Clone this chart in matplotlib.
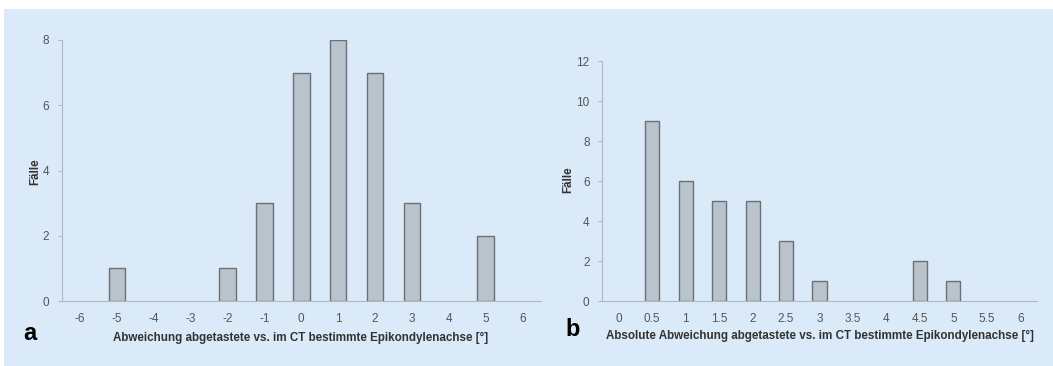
import numpy as np
import matplotlib.pyplot as plt
from matplotlib.patches import Rectangle

plt.rcParams['font.family'] = ['Liberation Sans', 'DejaVu Sans']

# Daten
abw_labels = ['-6', '-5', '-4', '-3', '-2', '-1', '0', '1', '2', '3', '4', '5', '6']
abw_counts = [0, 1, 0, 0, 1, 3, 7, 8, 7, 3, 0, 2, 0]

abs_labels = ['0', '0.5', '1', '1.5', '2', '2.5', '3', '3.5', '4', '4.5', '5', '5.5', '6']
abs_counts = [0, 9, 6, 5, 5, 3, 1, 0, 0, 2, 1, 0, 0]

W, H = 1053, 366
bg = '#dbeaf8'
bar_fc = '#b9c3cc'
bar_ec = '#6b7076'
spine_c = '#b0b8c0'
tick_c = '#555555'
label_c = '#333333'

fig = plt.figure(figsize=(W / 100, H / 100), dpi=100, facecolor='white')
fig.patches.append(Rectangle((4 / W, 0), 1 - 4 / W, 1 - 9 / H, transform=fig.transFigure,
                             facecolor=bg, edgecolor='none', zorder=-10))


def px_axes(x0, x1, y0, y1):
    # Pixelkoordinaten (von oben) -> Figurenkoordinaten
    return fig.add_axes([x0 / W, (H - y1) / H, (x1 - x0) / W, (y1 - y0) / H])


def draw(ax, labels, counts, ymax, width):
    x = np.arange(len(labels))
    lw = [1.0 if c > 0 else 0 for c in counts]  # leere Klassen ohne Rand
    ax.bar(x, counts, width=width, color=bar_fc, edgecolor=bar_ec, linewidth=lw, zorder=3)
    ax.set_facecolor('none')
    ax.set_xlim(-0.5, len(labels) - 0.5)
    ax.set_ylim(0, ymax)
    ax.set_yticks(np.arange(0, ymax + 1, 2))
    ax.set_xticks(x)
    ax.set_xticklabels(labels)
    for s in ['top', 'right']:
        ax.spines[s].set_visible(False)
    for s in ['left', 'bottom']:
        ax.spines[s].set_color(spine_c)
        ax.spines[s].set_linewidth(0.8)
    ax.tick_params(axis='y', length=3, color=spine_c, labelsize=8.5, labelcolor=tick_c, pad=6)
    ax.tick_params(axis='x', length=0, labelsize=8.5, labelcolor=tick_c, pad=9)


ax1 = px_axes(61.5, 541, 40, 301)
draw(ax1, abw_labels, abw_counts, 8, 0.45)

ax2 = px_axes(602, 1037, 61, 301)
draw(ax2, abs_labels, abs_counts, 12, 0.42)

fig.text(301 / W, 1 - 338 / H, 'Abweichung abgetastete vs. im CT bestimmte Epikondylenachse [°]',
         ha='center', va='center', fontsize=8.4, fontweight='bold', color=label_c)
fig.text(820 / W, 1 - 336 / H, 'Absolute Abweichung abgetastete vs. im CT bestimmte Epikondylenachse [°]',
         ha='center', va='center', fontsize=8.4, fontweight='bold', color=label_c)
fig.text(35 / W, 1 - 172 / H, 'Fälle', rotation=90, ha='center', va='center',
         fontsize=8.4, fontweight='bold', color=label_c)
fig.text(568 / W, 1 - 180 / H, 'Fälle', rotation=90, ha='center', va='center',
         fontsize=8.4, fontweight='bold', color=label_c)
fig.text(30 / W, 1 - 334 / H, 'a', ha='center', va='center', fontsize=17, fontweight='bold', color='black')
fig.text(573 / W, 1 - 330 / H, 'b', ha='center', va='center', fontsize=17, fontweight='bold', color='black')

fig.savefig('out.png', dpi=100, facecolor=fig.get_facecolor())
